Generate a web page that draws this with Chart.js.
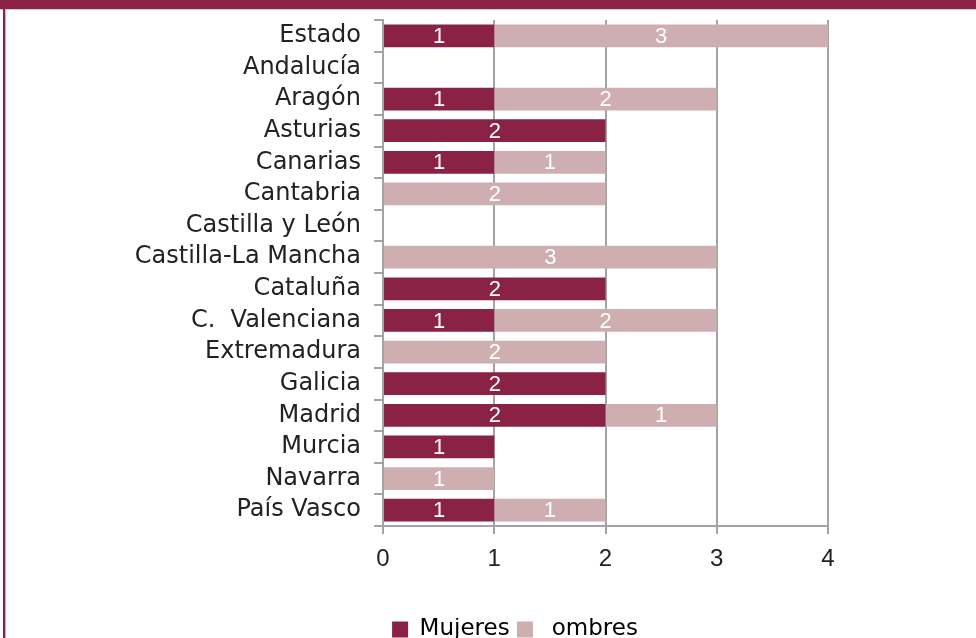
<!DOCTYPE html>
<html>
<head>
<meta charset="utf-8">
<script src="https://cdn.jsdelivr.net/npm/chart.js@4"></script>
<style>
  body { margin: 0; background: #fff; }
  .wrap { position: relative; width: 976px; height: 638px; overflow: hidden; }
  .wrap canvas { position: absolute; left: 0; top: 0; }
  .band { position: absolute; left: 0; top: 0; width: 976px; height: 9px; background: #8a2346; border-bottom: 1px solid #e6c3cc; }
  .side { position: absolute; left: 3px; top: 9px; width: 2px; height: 629px; background: #8a2346; border-right: 1px solid #e4a6bd; }
</style>
</head>
<body>
<div class="wrap">
  <canvas id="chart" width="976" height="638"></canvas>
  <div class="band"></div>
  <div class="side"></div>
</div>
<script>
const categories = ['Estado', 'Andalucía', 'Aragón', 'Asturias', 'Canarias', 'Cantabria',
  'Castilla y León', 'Castilla-La Mancha', 'Cataluña', 'C.  Valenciana', 'Extremadura',
  'Galicia', 'Madrid', 'Murcia', 'Navarra', 'País Vasco'];
const mujeres = [1, 0, 1, 2, 1, 0, 0, 0, 2, 1, 0, 2, 2, 1, 0, 1];
const hombres = [3, 0, 2, 0, 1, 2, 0, 3, 0, 2, 2, 0, 1, 0, 1, 1];
const xTicks = [0, 1, 2, 3, 4];

const gridColor = '#a3a3a3';

// white value labels in the middle of each bar
const barLabels = {
  id: 'barLabels',
  afterDatasetsDraw(chart) {
    const ctx = chart.ctx;
    ctx.save();
    ctx.fillStyle = '#fff';
    ctx.font = '22px "Liberation Sans", Arial, sans-serif';
    ctx.textAlign = 'center';
    ctx.textBaseline = 'middle';
    chart.data.datasets.forEach((ds, i) => {
      chart.getDatasetMeta(i).data.forEach((bar, j) => {
        if (!ds.data[j]) return;
        ctx.fillText(String(ds.data[j]), (bar.x + bar.base) / 2, bar.y + 1);
      });
    });
    ctx.restore();
  }
};

// legend sits centred on the page, near the bottom edge
const moveLegend = {
  id: 'moveLegend',
  afterLayout(chart) {
    const lg = chart.legend;
    lg.left = 54; lg.right = 976;
    lg.top += 13; lg.bottom += 13;
  }
};

new Chart(document.getElementById('chart'), {
  type: 'bar',
  data: {
    labels: categories,
    datasets: [{
      label: 'Mujeres',
      data: mujeres,
      backgroundColor: '#8a2246',
      barPercentage: 0.72,
      categoryPercentage: 1
    }, {
      label: 'Hombres',
      data: hombres,
      backgroundColor: '#cfaeb1',
      barPercentage: 0.72,
      categoryPercentage: 1
    }]
  },
  options: {
    indexAxis: 'y',
    responsive: false,
    animation: false,
    layout: { padding: { top: 20, right: 148, left: 0, bottom: 0 } },
    scales: {
      x: {
        stacked: true,
        min: 0,
        max: 4,
        afterBuildTicks: s => { s.ticks = xTicks.map(v => ({ value: v })); },
        afterFit: s => { s.height = 79; },
        grid: { color: gridColor, lineWidth: 2, tickLength: 8 },
        border: { color: gridColor, width: 2 },
        ticks: {
          color: '#222',
          padding: 11,
          font: { family: '"Liberation Sans", Arial, sans-serif', size: 24 }
        }
      },
      y: {
        stacked: true,
        afterFit: s => { s.width = 383; s.paddingTop = 0; s.paddingBottom = 0; },
        grid: { drawOnChartArea: false, color: gridColor, lineWidth: 2, tickLength: 9 },
        border: { color: gridColor, width: 2 },
        ticks: {
          autoSkip: false,
          color: '#222',
          padding: 13,
          font: { family: '"DejaVu Sans", Verdana, sans-serif', size: 24 }
        }
      }
    },
    plugins: {
      tooltip: { enabled: false },
      legend: {
        position: 'bottom',
        labels: {
          color: '#222',
          boxWidth: 16,
          boxHeight: 16,
          padding: 0,
          font: { family: '"DejaVu Sans", Verdana, sans-serif', size: 23 },
          generateLabels: chart => chart.data.datasets.map((ds, i) => ({
            text: i === 1 ? ' ombres' : ds.label + ' ',
            fillStyle: ds.backgroundColor,
            strokeStyle: ds.backgroundColor,
            lineWidth: 0,
            datasetIndex: i
          }))
        }
      }
    }
  },
  plugins: [barLabels, moveLegend]
});
</script>
</body>
</html>
